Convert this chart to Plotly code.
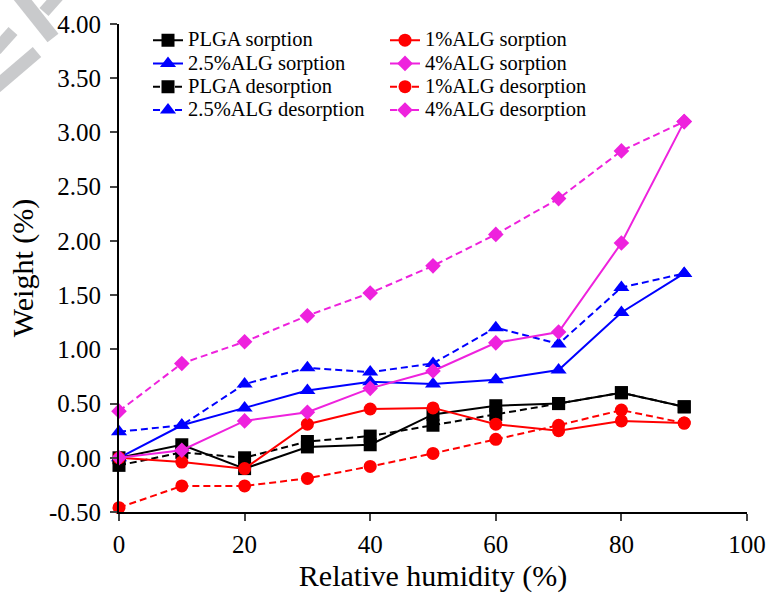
import plotly.graph_objects as go

rh = [0, 10, 20, 30, 40, 50, 60, 70, 80, 90]

plga_sorp = [0.00, 0.12, -0.10, 0.10, 0.12, 0.40, 0.48, 0.50, 0.60, 0.47]
alg1_sorp = [0.00, -0.04, -0.10, 0.31, 0.45, 0.46, 0.31, 0.25, 0.34, 0.32]
alg25_sorp = [0.00, 0.30, 0.46, 0.62, 0.70, 0.68, 0.72, 0.81, 1.34, 1.70]
alg4_sorp = [0.00, 0.07, 0.34, 0.42, 0.64, 0.80, 1.06, 1.16, 1.98, 3.10]

plga_des = [-0.07, 0.05, 0.00, 0.15, 0.20, 0.30, 0.40, 0.50, 0.60, 0.47]
alg1_des = [-0.46, -0.26, -0.26, -0.19, -0.08, 0.04, 0.17, 0.30, 0.44, 0.32]
alg25_des = [0.24, 0.30, 0.68, 0.83, 0.79, 0.87, 1.20, 1.05, 1.57, 1.70]
alg4_des = [0.43, 0.87, 1.07, 1.31, 1.52, 1.77, 2.06, 2.39, 2.83, 3.10]

series = [
    ("PLGA sorption", plga_sorp, "#000000", "square", 13, "solid", "legend"),
    ("2.5%ALG sorption", alg25_sorp, "#0000ff", "triangle-up", 14, "solid", "legend"),
    ("PLGA desorption", plga_des, "#000000", "square", 13, "dash", "legend"),
    ("2.5%ALG desorption", alg25_des, "#0000ff", "triangle-up", 14, "dash", "legend"),
    ("1%ALG sorption", alg1_sorp, "#ff0000", "circle", 13, "solid", "legend2"),
    ("4%ALG sorption", alg4_sorp, "#ee22dd", "diamond", 12, "solid", "legend2"),
    ("1%ALG desorption", alg1_des, "#ff0000", "circle", 13, "dash", "legend2"),
    ("4%ALG desorption", alg4_des, "#ee22dd", "diamond", 12, "dash", "legend2"),
]

fig = go.Figure()
for name, ys, color, sym, size, dash, lg in series:
    fig.add_trace(go.Scatter(
        x=rh, y=ys, name='<span style="font-size:20.5px">%s</span>' % name,
        mode="lines+markers",
        line=dict(color=color, width=2, dash=("7px,4px" if dash == "dash" else "solid")),
        marker=dict(symbol=sym, size=size, color=color),
        legend=lg, cliponaxis=False,
    ))

L, R, T, B = 119, 20, 24, 82
W, H = 767, 594
pw, ph = W - L - R, H - T - B


def px(x):
    return (x - L) / pw


def py(y):
    return (H - B - y) / ph


font = "Liberation Serif"
fig.update_layout(
    width=W, height=H,
    margin=dict(l=L, r=R, t=T, b=B, autoexpand=False),
    paper_bgcolor="white", plot_bgcolor="white",
    font=dict(family=font, color="#000000"),
    legend=dict(x=px(148), y=py(23.5), xanchor="left", yanchor="top",
                font=dict(size=15.6, family=font), bgcolor="rgba(0,0,0,0)",
                tracegroupgap=0),
    legend2=dict(x=px(385), y=py(23.5), xanchor="left", yanchor="top",
                 font=dict(size=15.6, family=font), bgcolor="rgba(0,0,0,0)",
                 tracegroupgap=0),
    xaxis=dict(range=[0, 100], tickvals=[0, 20, 40, 60, 80, 100], automargin=False,
               showgrid=False, zeroline=False, showline=True, linecolor="black",
               linewidth=2, ticks="outside", ticklen=7, tickwidth=2, ticklabelstandoff=2,
               tickfont=dict(size=25, family=font),
               title=dict(text="Relative humidity (%)", font=dict(size=30, family=font), standoff=8)),
    yaxis=dict(range=[-0.5, 4.0], tickvals=[-0.5, 0, 0.5, 1, 1.5, 2, 2.5, 3, 3.5, 4], automargin=False,
               ticktext=["-0.50", "0.00", "0.50", "1.00", "1.50", "2.00", "2.50", "3.00", "3.50", "4.00"],
               showgrid=False, zeroline=False, showline=True, linecolor="black",
               linewidth=2, ticks="outside", ticklen=7, tickwidth=2, ticklabelstandoff=4,
               tickfont=dict(size=25, family=font),
               title=dict(text="Weight (%)", font=dict(size=30, family=font), standoff=6)),
    showlegend=True,
)

# faint watermark fragments at top-left corner
for (x0, y0, x1, y1, w) in [(18, -6, 53, 38, 14), (44, 12, 60, -6, 12),
                            (-4, 50, 13, 31, 12), (-4, 87, 37, 52, 13)]:
    fig.add_shape(type="line", xref="paper", yref="paper",
                  x0=px(x0), y0=py(y0), x1=px(x1), y1=py(y1),
                  line=dict(color="#c9cacc", width=w), layer="below")

fig.write_html("out.html")
